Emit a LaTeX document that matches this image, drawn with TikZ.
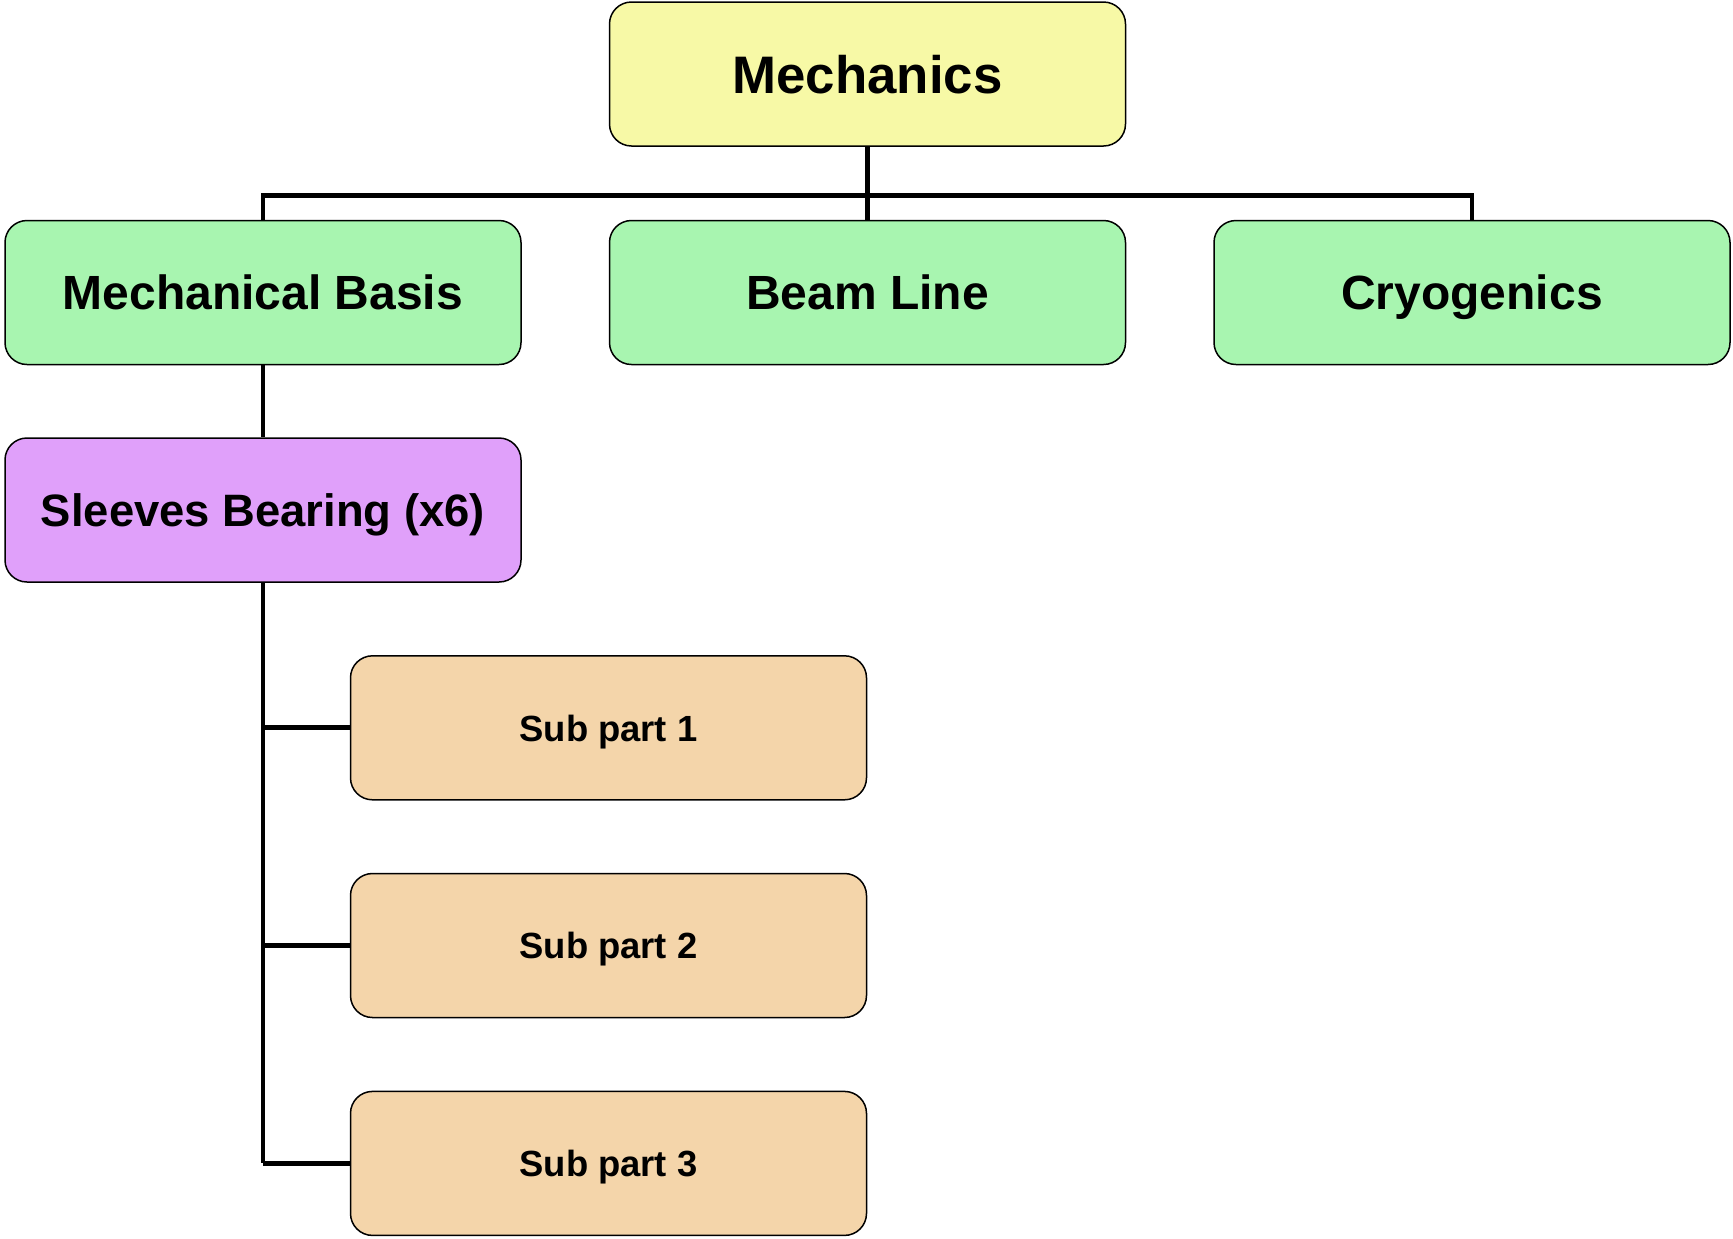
\documentclass[tikz,border=0pt]{standalone}
\usepackage{fontspec}
\setmainfont{Liberation Sans}
\usepackage{xcolor}
\usepackage{tikz}

\definecolor{topyellow}{HTML}{F7F9A6}
\definecolor{areagreen}{HTML}{A8F5B0}
\definecolor{partpurple}{HTML}{E0A0FA}
\definecolor{subtan}{HTML}{F4D5AA}

\tikzset{
	block/.style={draw=black, line width=0.75pt, rounded corners=11pt,
		minimum width=258pt, minimum height=72pt, inner sep=0pt,
		text depth=0pt, font=\bfseries},
	link/.style={line width=2.4pt}
}

\begin{document}
\begin{tikzpicture}[x=0.5pt,y=-0.5pt]
		\useasboundingbox (0,0) rectangle (1733,1238);
		
		\node[block, fill=topyellow, font=\bfseries\fontsize{26.4}{30}\selectfont] (mech) at (867.5,74) {Mechanics};
		
		\node[block, fill=areagreen, font=\bfseries\fontsize{24}{28}\selectfont] (basis) at (263,292.5) {Mechanical Basis};
		\node[block, fill=areagreen, font=\bfseries\fontsize{24}{28}\selectfont] (beam) at (867.5,292.5) {Beam Line};
		\node[block, fill=areagreen, font=\bfseries\fontsize{24}{28}\selectfont] (cryo) at (1472,292.5) {Cryogenics};
		
		\node[block, fill=partpurple, font=\bfseries\fontsize{22.7}{26}\selectfont] (sleeves) at (263,510) {Sleeves Bearing (x6)};
		
		\foreach \i/\y in {1/727.8,2/945.5,3/1163.4}{
			\node[block, fill=subtan, font=\bfseries\fontsize{18.2}{22}\selectfont] (sub\i) at (608.5,\y) {Sub part \i};
		}
		
		\coordinate (bus) at (867.5,195.6);
		\draw[link] (mech.south) -- (beam.north);
		\draw[link] (basis.north) -- (basis.north |- bus) -- (cryo.north |- bus) -- (cryo.north);
		\draw[link] (basis.south) -- (sleeves.north);
		
		\draw[link] (sleeves.south) -- (sleeves.south |- sub3.west);
		\foreach \i in {1,2,3}{
			\draw[link] (sleeves.south |- sub\i.west) -- (sub\i.west);
		}
	\end{tikzpicture}
\end{document}
